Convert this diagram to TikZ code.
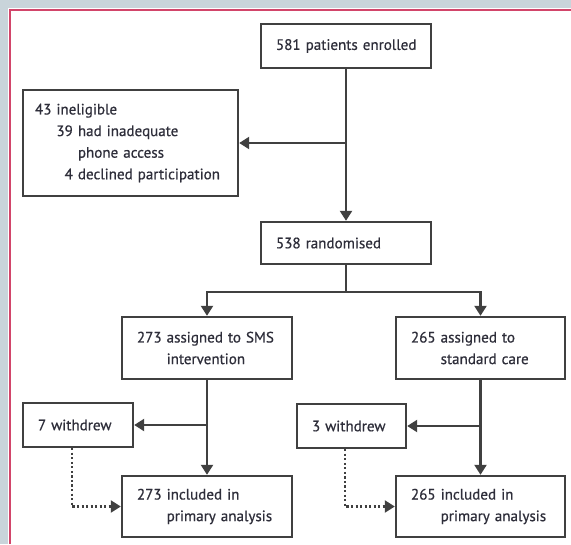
\documentclass[tikz,border=0pt]{standalone}
\usepackage{fontspec}
\setmainfont[FakeBold=0.6]{PT Sans}
\usetikzlibrary{arrows.meta}
\definecolor{bgc}{HTML}{C9D4DA}
\definecolor{pinkc}{HTML}{D2456A}
\definecolor{linec}{HTML}{404040}
\definecolor{txtc}{HTML}{2E2E3A}
\begin{document}
\begin{tikzpicture}[x=0.75pt,y=-0.75pt,
  box/.style={draw=linec, line width=1.8pt, fill=white, inner xsep=11.25pt, inner ysep=0pt,
    align=left, text=txtc, font=\fontsize{11.3}{16.2}\selectfont},
  conn/.style={draw=linec, line width=1.7pt},
  arr/.style={conn, -{Triangle[width=9pt,length=7.5pt]}},
  dots/.style={draw=linec, line width=1.6pt, dash pattern=on 1.6pt off 1.8pt,
    -{Triangle[width=9pt,length=7.5pt]}}]
\useasboundingbox (0,0) rectangle (571,544);
\fill[bgc] (0,0) rectangle (571,544);
\fill[white] (7.5,7.5) rectangle (571,544);
\draw[pinkc, line width=1.8pt] (10,544) -- (10,10) -- (571,10);

\node[box, minimum width=127.5pt, minimum height=33pt, text width=105pt] (enrol) at (346,46)
  {\mbox{581 patients enrolled}};
\node[box, inner xsep=9pt, minimum width=161.25pt, minimum height=79.5pt, text width=143.25pt] (inel) at (130.5,143)
  {\mbox{43 ineligible}\\\mbox{\phantom{43 }39 had inadequate}\\\mbox{\phantom{43 39 }phone access}\\\mbox{\phantom{43 3}4 declined participation}};
\node[box, minimum width=127.5pt, minimum height=31.5pt, text width=105pt] (rand) at (346,243)
  {\mbox{538 randomised}};
\node[box, minimum width=127.5pt, minimum height=46.5pt, text width=105pt] (sms) at (207,348)
  {\mbox{273 assigned to SMS}\\\mbox{\phantom{273 }intervention}};
\node[box, minimum width=126.75pt, minimum height=46.5pt, text width=104.25pt] (std) at (480.5,348)
  {\mbox{265 assigned to}\\\mbox{\phantom{265 }standard care}};
\node[box, minimum width=82.5pt, minimum height=33pt, text width=60pt] (w7) at (78,425)
  {\mbox{7 withdrew}};
\node[box, minimum width=81.75pt, minimum height=33pt, text width=59.25pt] (w3) at (351.5,426)
  {\mbox{3 withdrew}};
\node[box, minimum width=127.5pt, minimum height=45.75pt, text width=105pt] (inc1) at (207,506.5)
  {\mbox{273 included in}\\\mbox{\phantom{273 }primary analysis}};
\node[box, minimum width=126.75pt, minimum height=45.75pt, text width=104.25pt] (inc2) at (480.5,506.5)
  {\mbox{265 included in}\\\mbox{\phantom{265 }primary analysis}};

\draw[arr] (enrol.south) -- (rand.north);
\draw[arr] (enrol.south |- inel.east) -- (inel.east);
\draw[arr] (rand.south) -- ++(0,27) -| (sms.north);
\draw[arr] (rand.south) -- ++(0,27) -| (std.north);
\draw[arr] (sms.south) -- (inc1.north);
\draw[arr] (std.south) -- (inc2.north);
\draw[arr] (sms.south |- w7.east) -- (w7.east);
\draw[arr] (std.south |- w3.east) -- (w3.east);
\draw[dots] ([xshift=37.5pt]w7.south west) |- (inc1.west);
\draw[dots] ([xshift=36.75pt]w3.south west) |- (inc2.west);
\end{tikzpicture}
\end{document}
